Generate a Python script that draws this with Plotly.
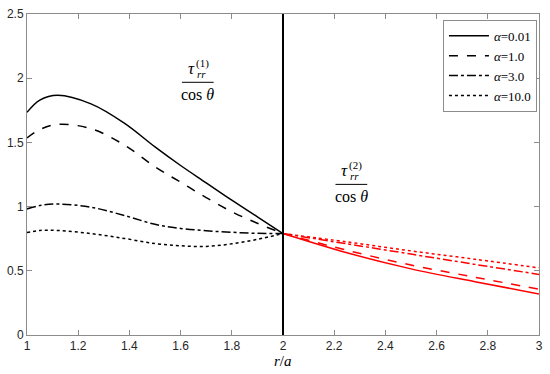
import plotly.graph_objects as go

# ---- data ----
x_left = [1.0, 1.05, 1.12, 1.25, 1.38, 1.5, 1.6, 1.7, 1.8, 1.9, 2.0]
left_001 = [1.734, 1.83, 1.867, 1.80, 1.65, 1.465, 1.32, 1.185, 1.05, 0.92, 0.79]
left_1 = [1.535, 1.60, 1.64, 1.607, 1.48, 1.31, 1.19, 1.07, 0.96, 0.87, 0.79]
left_3 = [0.982, 1.008, 1.02, 0.995, 0.931, 0.862, 0.83, 0.812, 0.80, 0.792, 0.79]
left_10 = [0.798, 0.814, 0.814, 0.79, 0.752, 0.712, 0.695, 0.69, 0.71, 0.745, 0.79]

x_right = [2.0, 2.25, 2.5, 2.75, 3.0]
right_001 = [0.79, 0.64, 0.515, 0.415, 0.32]
right_1 = [0.79, 0.66, 0.545, 0.45, 0.357]
right_3 = [0.79, 0.71, 0.63, 0.55, 0.472]
right_10 = [0.79, 0.725, 0.655, 0.59, 0.523]

labels = ["<i>α</i>=0.01", "<i>α</i>=1.0", "<i>α</i>=3.0", "<i>α</i>=10.0"]
dashes = ["solid", "dash", "dashdot", "dot"]

x_ticks = [1, 1.2, 1.4, 1.6, 1.8, 2, 2.2, 2.4, 2.6, 2.8, 3]
x_ticktext = ["1", "1.2", "1.4", "1.6", "1.8", "2", "2.2", "2.4", "2.6", "2.8", "3"]
y_ticks = [0, 0.5, 1, 1.5, 2, 2.5]
y_ticktext = ["0", "0.5", "1", "1.5", "2", "2.5"]

fig = go.Figure()
lefts = [left_001, left_1, left_3, left_10]
rights = [right_001, right_1, right_3, right_10]
for lab, d, yl in zip(labels, dashes, lefts):
    fig.add_trace(go.Scatter(x=x_left, y=yl, mode="lines", name=lab,
                             line=dict(color="black", width=1.5, dash=d, shape="spline")))
for lab, d, yr in zip(labels, dashes, rights):
    fig.add_trace(go.Scatter(x=x_right, y=yr, mode="lines", name=lab, showlegend=False,
                             line=dict(color="red", width=1.5, dash=d, shape="spline")))

# vertical divider at r/a = 2
fig.add_shape(type="line", x0=2, x1=2, y0=0, y1=2.5, xref="x", yref="y",
              line=dict(color="black", width=2))

serif = "Liberation Serif"
PX = 1.0 / 258.0  # data units per pixel along x


def frac(xc, yline, idx):
    fig.add_shape(type="line", x0=xc - 16 * PX, x1=xc + 16 * PX, y0=yline, y1=yline,
                  xref="x", yref="y", line=dict(color="black", width=1))
    fig.add_annotation(x=xc - 6.5 * PX, y=yline, yshift=14, xref="x", yref="y", showarrow=False,
                       yanchor="middle", text="<i>τ</i>",
                       font=dict(family=serif, size=17, color="black"))
    fig.add_annotation(x=xc + 3.5 * PX, y=yline, yshift=8, xref="x", yref="y", showarrow=False,
                       yanchor="middle", text="<i>rr</i>",
                       font=dict(family=serif, size=11, color="black"))
    fig.add_annotation(x=xc + 4.5 * PX, y=yline, yshift=19, xref="x", yref="y", showarrow=False,
                       yanchor="middle", text="(%d)" % idx,
                       font=dict(family=serif, size=11, color="black"))
    fig.add_annotation(x=xc, y=yline, yshift=-12, xref="x", yref="y", showarrow=False,
                       yanchor="middle", text="cos <i>θ</i>",
                       font=dict(family=serif, size=16, color="black"))


frac(1.667, 1.968, 1)
frac(2.267, 1.173, 2)

# axis title
fig.add_annotation(x=0.5, y=0, xref="paper", yref="paper", yshift=-26, showarrow=False,
                   yanchor="middle", text="<i>r</i>/<i>a</i>",
                   font=dict(family=serif, size=15, color="black"))

axis_common = dict(showline=True, linecolor="#8c8c8c", linewidth=1, mirror="ticks",
                   ticks="inside", ticklen=5, tickcolor="#8c8c8c", showgrid=False,
                   zeroline=False, ticklabeloverflow="allow",
                   tickfont=dict(family="Liberation Sans", size=12, color="#262626"))

fig.update_layout(
    width=550, height=374,
    margin=dict(l=27, r=7, t=8, b=39),
    plot_bgcolor="white", paper_bgcolor="white",
    xaxis=dict(range=[1, 3], tickvals=x_ticks, ticktext=x_ticktext, **axis_common),
    yaxis=dict(range=[0, 2.5], tickvals=y_ticks, ticktext=y_ticktext, **axis_common),
    legend=dict(x=0.996, y=0.982, xanchor="right", yanchor="top",
                bordercolor="#8c8c8c", borderwidth=1, bgcolor="white",
                font=dict(family=serif, size=13, color="black"),
                tracegroupgap=0, itemwidth=40),
    showlegend=True,
)

fig.write_html("out.html", config={"displayModeBar": False},
               post_script="document.body.style.margin='0';")
